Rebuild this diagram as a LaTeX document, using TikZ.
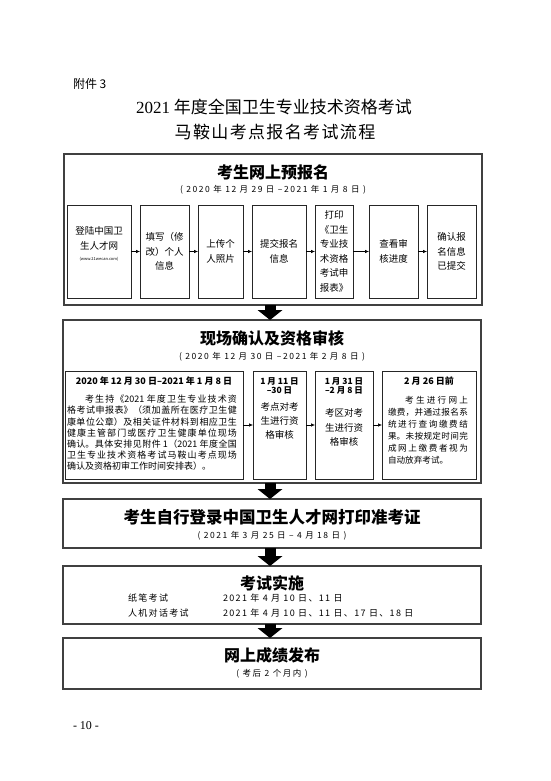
\documentclass[tikz,border=0pt]{standalone}
\usepackage{fontspec}
\setmainfont{Noto Sans CJK SC}
\newfontfamily\latinserif{Liberation Serif}
\usetikzlibrary{arrows.meta}
\XeTeXlinebreaklocale "zh"
\XeTeXlinebreakskip=0pt plus 3pt
\newcommand{\fsz}[2]{\fontsize{#1}{#2}\selectfont}
\newcommand{\wide}[1]{\addfontfeature{LetterSpace=#1}}

\begin{document}
\begin{tikzpicture}[x=1pt,y=-1pt]
    \tikzstyle{every node}=[inner sep=0, outer sep=0]
    \tikzstyle{outerbox}=[draw=black!75, line width=1.3pt, anchor=north west]
    \tikzstyle{stepbox}=[draw=black!85, line width=0.8pt, align=center, font=\fsz{9.5}{14.5}]
    \tikzstyle{headline}=[font=\bfseries\fsz{16}{19}]
    \tikzstyle{datum}=[font=\fsz{8.5}{10}\wide{18}]
    \tikzstyle{smallhead}=[font=\bfseries\fsz{8.5}{9}, align=center]
    \tikzstyle{flow}=[-{Latex[length=4pt,width=3.5pt]}, line width=0.6pt]
    \tikzstyle{bigarrow}=[line width=11pt, -{Triangle[length=10pt,width=25pt,line width=0pt]}]

    \fill[white] (0,0) rectangle (550,781);
    \useasboundingbox (0,0) rectangle (550,781);

    \node[anchor=west, font=\fsz{12}{14}] (attach) at (73,84) {附件 3};
    \node[font=\fsz{17}{20}] (title1) at (274,107) {{\latinserif 2021} 年度全国卫生专业技术资格考试};
    \node[font=\fsz{17}{20}\wide{8}] (title2) at (275,132) {马鞍山考点报名考试流程};

    \node[outerbox, minimum width=418, minimum height=151] (pre) at (64,154) {};
    \node[headline] (preT) at (273,172) {考生网上预报名};
    \node[datum] (preD) at (273,190) {( 2020 年 12 月 29 日 –2021 年 1 月 8 日 )};
    \node[stepbox, minimum width=64, minimum height=93] (login) at (99,251.5) {};
    \node[align=center, font=\fsz{9.5}{14.5}] (loginT) at (99,244) {登陆中国卫\\生人才网\\[-3pt]{\fsz{4}{5}(www.21wecan.com)}};
    \node[stepbox, minimum width=49, minimum height=93] (fill) at (164.5,251.5) {填写（修\\改）个人\\信息};
    \node[stepbox, minimum width=45, minimum height=93] (photo) at (220.5,251.5) {上传个\\人照片};
    \node[stepbox, minimum width=54, minimum height=93] (submit) at (279,251.5) {提交报名\\信息};
    \node[stepbox, minimum width=38, minimum height=93] (print) at (334,251.5) {打印\\《卫生\\专业技\\术资格\\考试申\\报表》};
    \node[stepbox, minimum width=49, minimum height=93] (progress) at (393.5,251.5) {查看审\\核进度};
    \node[stepbox, minimum width=49, minimum height=93] (confirm) at (451.5,251.5) {确认报\\名信息\\已提交};
    \draw[flow] (login) -- (fill);
    \draw[flow] (fill) -- (photo);
    \draw[flow] (photo) -- (submit);
    \draw[flow] (submit) -- (print);
    \draw[flow] (print) -- (progress);
    \draw[flow] (progress) -- (confirm);

    \node[outerbox, minimum width=418, minimum height=163] (check) at (63,320) {};
    \node[headline] (checkT) at (272,338) {现场确认及资格审核};
    \node[datum] (checkD) at (272,357) {( 2020 年 12 月 30 日 –2021 年 2 月 8 日 )};
    \node[stepbox, minimum width=178, minimum height=108] (onsite) at (154,425) {};
    \node[stepbox, minimum width=53, minimum height=108] (point) at (279.5,425) {};
    \node[stepbox, minimum width=58, minimum height=108] (district) at (344,425) {};
    \node[stepbox, minimum width=94, minimum height=108] (pay) at (429,425) {};
    \draw[flow] (onsite) -- (point);
    \draw[flow] (point) -- (district);
    \draw[flow] (district) -- (pay);
    \node[smallhead, font=\bfseries\fsz{9}{10}] (onsiteH) at (154,381) {2020 年 12 月 30 日–2021 年 1 月 8 日};
    \node[anchor=north west, text width=170, align=justify, font=\fsz{9}{11.2}] (onsiteB) at (67,395) {\hspace*{2em}考生持《2021 年度卫生专业技术资\linebreak 格考试申报表》（须加盖所在医疗卫生健\linebreak 康单位公章）及相关证件材料到相应卫生\linebreak 健康主管部门或医疗卫生健康单位现场\linebreak 确认。具体安排见附件 1（2021 年度全国\linebreak 卫生专业技术资格考试马鞍山考点现场\linebreak 确认及资格初审工作时间安排表）。};
    \node[smallhead] (pointH) at (279.5,385.5) {1 月 11 日\\–30 日};
    \node[align=center, font=\fsz{9.5}{14}] (pointB) at (279.5,421) {考点对考\\生进行资\\格审核};
    \node[smallhead] (districtH) at (344,385.5) {1 月 31 日\\–2 月 8 日};
    \node[align=center, font=\fsz{9.5}{14.5}] (districtB) at (344,427.5) {考区对考\\生进行资\\格审核};
    \node[smallhead, font=\bfseries\fsz{9}{10}] (payH) at (429,381) {2 月 26 日前};
    \node[anchor=north west, text width=80, align=justify, font=\fsz{8.6}{12}] (payB) at (388,396) {\hspace*{2em}考生进行网上\linebreak 缴费，并通过报名系\linebreak 统进行查询缴费结\linebreak 果。未按规定时间完\linebreak 成网上缴费者视为\linebreak 自动放弃考试。};

    \node[outerbox, minimum width=418, minimum height=49] (admit) at (63,499) {};
    \node[headline, font=\bfseries\fsz{16.5}{19}] (admitT) at (272,517) {考生自行登录中国卫生人才网打印准考证};
    \node[datum] (admitD) at (272,536) {( 2021 年 3 月 25 日 – 4 月 18 日 )};

    \node[outerbox, minimum width=418, minimum height=58] (exam) at (63,566) {};
    \node[headline] (examT) at (272,583) {考试实施};
    \node[anchor=west, font=\fsz{9}{10}\wide{15}] (paperL) at (128,598) {纸笔考试};
    \node[anchor=west, font=\fsz{9}{10}\wide{15}] (paperD) at (223,598) {2021 年 4 月 10 日、11 日};
    \node[anchor=west, font=\fsz{9}{10}\wide{15}] (dialogL) at (128,613) {人机对话考试};
    \node[anchor=west, font=\fsz{9}{10}\wide{15}] (dialogD) at (223,613) {2021 年 4 月 10 日、11 日、17 日、18 日};

    \node[outerbox, minimum width=418, minimum height=51] (result) at (63,638) {};
    \node[headline] (resultT) at (272,655) {网上成绩发布};
    \node[datum] (resultD) at (272,674) {( 考后 2 个月内 )};

    \draw[bigarrow] ([xshift=-3pt]pre.south) -- ([xshift=-2pt]check.north);
    \draw[bigarrow] ([xshift=-2pt]check.south) -- ([xshift=-2pt]admit.north);
    \draw[bigarrow] ([xshift=-2pt]admit.south) -- ([xshift=-2pt]exam.north);
    \draw[bigarrow] ([xshift=-2pt]exam.south) -- ([xshift=-2pt]result.north);

    \node[anchor=west, font=\latinserif\fsz{12}{14}] (page) at (73,726) {- 10 -};
\end{tikzpicture}
\end{document}
